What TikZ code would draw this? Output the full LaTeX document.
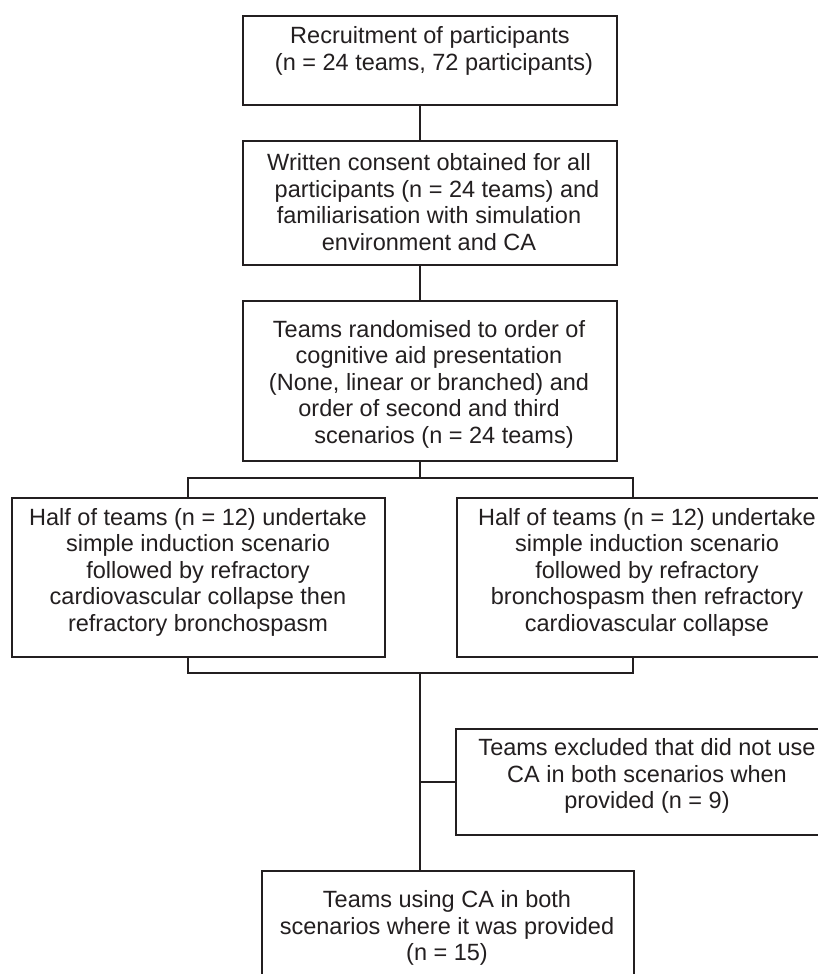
\documentclass[tikz,border=0pt]{standalone}
\usepackage{fontspec}
\setmainfont{Liberation Sans}
\definecolor{ink}{HTML}{231F20}
\begin{document}
\begin{tikzpicture}[x=1pt,y=-1pt,
  box/.style={draw=ink, line width=1.6pt, inner sep=0pt, anchor=north west, fill=white},
  txt/.style={align=center, font=\fontsize{23.5}{26.5}\selectfont, text=ink, inner sep=0pt},
  conn/.style={draw=ink, line width=1.6pt}]
\useasboundingbox[fill=white] (0,0) rectangle (818,974);
% boxes
\node[box, minimum width=374pt, minimum height=89pt]  (b1) at (242,15)  {};
\node[box, minimum width=374pt, minimum height=124pt] (b2) at (242,140) {};
\node[box, minimum width=374pt, minimum height=160pt] (b3) at (242,300) {};
\node[box, minimum width=373pt, minimum height=159pt] (b4) at (11,497)  {};
\node[box, minimum width=384pt, minimum height=159pt] (b5) at (456,497) {};
\node[box, minimum width=385pt, minimum height=106pt] (b6) at (455,728) {};
\node[box, minimum width=372pt, minimum height=130pt] (b7) at (261,870) {};
% texts
\node[txt] (t1) at (430,51)  {Recruitment of participants\\\hspace*{8pt}(n = 24 teams, 72 participants)};
\node[txt] (t2) at (429,202) {Written consent obtained for all\\\hspace*{16pt}participants (n = 24 teams) and\\familiarisation with simulation\\environment and CA};
\node[txt] (t3) at (429,384) {Teams randomised to order of\\cognitive aid presentation\\(None, linear or branched) and\\order of second and third\\\hspace*{30pt}scenarios (n = 24 teams)};
\node[txt] (t4) at (198,572) {Half of teams (n = 12) undertake\\simple induction scenario\\followed by refractory\\cardiovascular collapse then\\refractory bronchospasm};
\node[txt] (t5) at (647,572) {Half of teams (n = 12) undertake\\simple induction scenario\\followed by refractory\\bronchospasm then refractory\\cardiovascular collapse};
\node[txt] (t6) at (647,776) {Teams excluded that did not use\\CA in both scenarios when\\provided (n = 9)};
\node[txt] (t7) at (447,928) {Teams using CA in both\\scenarios where it was provided\\(n = 15)};
% connector guides
\coordinate (tx) at (420,0);
\coordinate (fl) at (188,0);
\coordinate (fr) at (633,0);
\coordinate (fy) at (0,478);
\coordinate (my) at (0,673);
% connectors
\draw[conn] (b1.south -| tx) -- (b2.north -| tx);
\draw[conn] (b2.south -| tx) -- (b3.north -| tx);
\draw[conn] (b3.south -| tx) -- (tx |- fy);
\draw[conn] (b4.north -| fl) -- (fl |- fy) -- (fr |- fy) -- (b5.north -| fr);
\draw[conn] (b4.south -| fl) -- (fl |- my) -- (fr |- my) -- (b5.south -| fr);
\draw[conn] (tx |- my) -- (b7.north -| tx);
\draw[conn] (tx |- b6.west) -- (b6.west);
\end{tikzpicture}
\end{document}
